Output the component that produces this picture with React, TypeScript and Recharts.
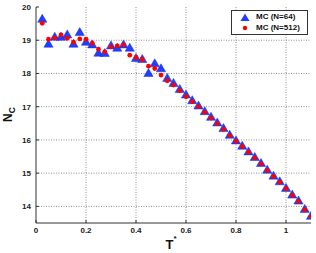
import {
  Label,
  ReferenceLine,
  Scatter,
  ScatterChart,
  XAxis,
  YAxis,
} from "recharts";

const temps = [
  0.025, 0.05, 0.075, 0.1, 0.125, 0.15, 0.175, 0.2, 0.225, 0.25, 0.275, 0.3,
  0.325, 0.35, 0.375, 0.4, 0.425, 0.45, 0.475, 0.5, 0.525, 0.55, 0.575, 0.6,
  0.625, 0.65, 0.675, 0.7, 0.725, 0.75, 0.775, 0.8, 0.825, 0.85, 0.875, 0.9,
  0.925, 0.95, 0.975, 1.0, 1.025, 1.05, 1.075, 1.1,
];

const nc64 = [
  19.63, 18.88, 19.09, 19.09, 19.16, 18.88, 19.23, 18.94, 18.86, 18.61, 18.6,
  18.83, 18.76, 18.86, 18.76, 18.45, 18.42, 18.0, 18.29, 18.14, 17.85, 17.7,
  17.52, 17.35, 17.18, 17.02, 16.85, 16.68, 16.51, 16.34, 16.14, 15.97, 15.81,
  15.64, 15.47, 15.29, 15.09, 14.91, 14.74, 14.54, 14.34, 14.16, 13.91, 13.7,
];

const nc512 = [
  19.51, 19.03, 19.07, 19.16, 19.06, 18.94, 19.04, 19.03, 18.91, 18.73, 18.65,
  18.8, 18.83, 18.86, 18.55, 18.48, 18.42, 18.22, 18.15, 17.95, 17.78, 17.65,
  17.48, 17.3, 17.15, 17.0, 16.83, 16.66, 16.49, 16.32, 16.13, 15.96, 15.8,
  15.63, 15.46, 15.28, 15.08, 14.9, 14.73, 14.53, 14.33, 14.15, 13.9, 13.69,
];

const seriesNames = ["MC (N=64)", "MC (N=512)"];
const xTicks = [0, 0.2, 0.4, 0.6, 0.8, 1];
const yTicks = [14, 15, 16, 17, 18, 19, 20];

const small = temps.map((t, i) => ({ t, nc: nc64[i] }));
const large = temps.map((t, i) => ({ t, nc: nc512[i] }));

const FONT = "'Liberation Sans', Arial, Helvetica, sans-serif";
const BLUE = "#1f3fff";
const RED = "#ff0000";
const AXIS = "#333";
const GRID = "#909090";
const tickStyle = { fill: "#222", fontSize: 8, fontWeight: "bold", fontFamily: FONT };

const Triangle = (props: any) => {
  const { cx, cy } = props;
  return (
    <polygon
      points={`${cx},${cy - 5} ${cx - 4.6},${cy + 3} ${cx + 4.6},${cy + 3}`}
      fill={BLUE}
      stroke="#1530dd"
      strokeWidth={0.5}
    />
  );
};

const Dot = (props: any) => <circle cx={props.cx} cy={props.cy} r={2.4} fill={RED} />;

// legend drawn outside the chart so it doesn't eat plot height
const LegendBox = () => (
  <div
    style={{
      position: "absolute",
      left: 231,
      top: 10,
      border: `1px solid ${AXIS}`,
      background: "#fff",
      width: 75,
      padding: "1px 0",
      fontFamily: FONT,
      fontSize: 8,
      fontWeight: "bold",
      color: "#111",
      lineHeight: "10.5px",
    }}
  >
    <div style={{ display: "flex", alignItems: "center" }}>
      <svg width={24} height={10}>
        <polygon points="13,1.5 8.5,9 17.5,9" fill={BLUE} />
      </svg>
      <span>{seriesNames[0]}</span>
    </div>
    <div style={{ display: "flex", alignItems: "center" }}>
      <svg width={24} height={10}>
        <circle cx={13} cy={5} r={2.2} fill={RED} />
      </svg>
      <span>{seriesNames[1]}</span>
    </div>
  </div>
);

const YLabel = (props: any) => {
  const { viewBox } = props;
  const cy = viewBox.y + viewBox.height / 2;
  return (
    <text
      transform={`translate(12, ${cy + 7}) rotate(-90)`}
      fontFamily={FONT}
      fontWeight="bold"
      fill="#111"
    >
      <tspan fontSize={12}>N</tspan>
      <tspan fontSize={8.5} dy={3}>C</tspan>
    </text>
  );
};

const XLabel = (props: any) => {
  const { viewBox } = props;
  const cx = viewBox.x + viewBox.width / 2 - 8;
  return (
    <text x={cx} y={viewBox.y + 26} fontFamily={FONT} fontWeight="bold" fill="#111">
      <tspan fontSize={13}>T</tspan>
      <tspan fontSize={8} dy={-8}>*</tspan>
    </text>
  );
};

export default function App() {
  return (
    <div style={{ position: "absolute", left: 0, top: 0, width: 316, height: 253, background: "#fff" }}>
      <ScatterChart width={316} height={253} margin={{ top: 7, right: 5, bottom: 0, left: 0 }}>
        {/* dotted grid at the tick values */}
        {xTicks.slice(1).map((t) => (
          <ReferenceLine key={`gx${t}`} x={t} stroke={GRID} strokeWidth={1} strokeDasharray="1 1.5" />
        ))}
        {yTicks.slice(0, -1).map((v) => (
          <ReferenceLine key={`gy${v}`} y={v} stroke={GRID} strokeWidth={1} strokeDasharray="1 1.5" />
        ))}
        <XAxis
          type="number"
          dataKey="t"
          domain={[0, 1.1]}
          ticks={xTicks}
          allowDataOverflow
          height={30}
          stroke={AXIS}
          tickSize={-3}
          tickMargin={7}
          tick={tickStyle}
        >
          <Label content={<XLabel />} />
        </XAxis>
        <XAxis
          xAxisId="top"
          orientation="top"
          type="number"
          domain={[0, 1.1]}
          ticks={xTicks}
          allowDataOverflow
          height={0}
          mirror
          stroke={AXIS}
          tickSize={3}
          tick={false}
        />
        <YAxis
          type="number"
          dataKey="nc"
          domain={[13.5, 20]}
          ticks={yTicks}
          allowDataOverflow
          width={36}
          stroke={AXIS}
          tickSize={-3}
          tickMargin={8}
          tick={tickStyle}
        >
          <Label content={<YLabel />} />
        </YAxis>
        <YAxis
          yAxisId="right"
          orientation="right"
          type="number"
          domain={[13.5, 20]}
          ticks={yTicks}
          allowDataOverflow
          width={0}
          mirror
          stroke={AXIS}
          tickSize={3}
          tick={false}
        />
        <Scatter name={seriesNames[0]} data={small} shape={<Triangle />} isAnimationActive={false} />
        <Scatter name={seriesNames[1]} data={large} shape={<Dot />} isAnimationActive={false} />
      </ScatterChart>
      <LegendBox />
    </div>
  );
}
